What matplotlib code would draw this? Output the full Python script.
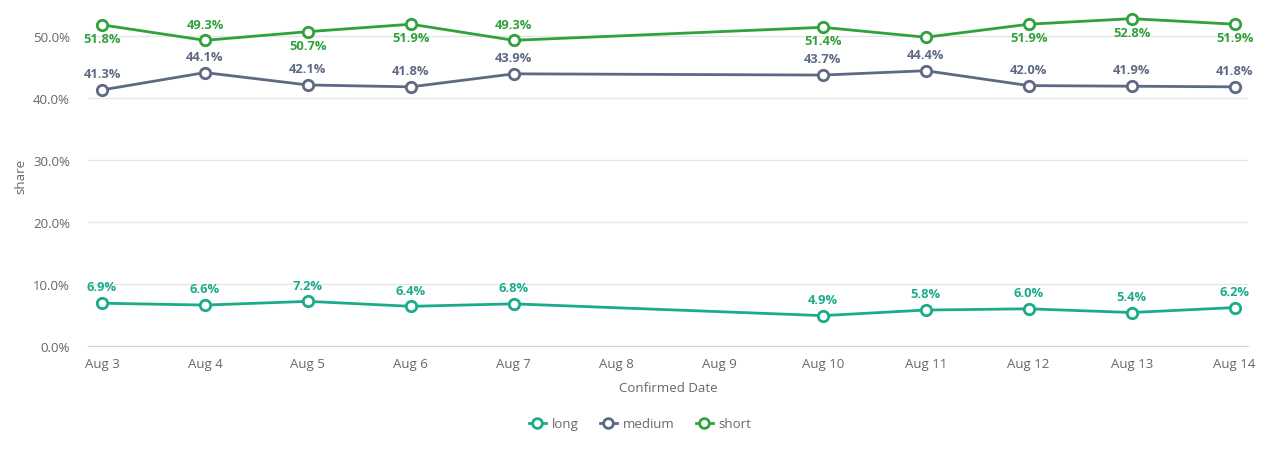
import matplotlib
matplotlib.use("Agg")
import matplotlib.pyplot as plt
import pandas as pd
from matplotlib.lines import Line2D

plt.rcParams['font.family'] = ['Open Sans', 'DejaVu Sans']

dates = ["2020-08-03", "2020-08-04", "2020-08-05", "2020-08-06", "2020-08-07",
         "2020-08-10", "2020-08-11", "2020-08-12", "2020-08-13", "2020-08-14"]
long_vals = [6.9, 6.6, 7.2, 6.4, 6.8, 4.9, 5.8, 6.0, 5.4, 6.2]
medium_vals = [41.3, 44.1, 42.1, 41.8, 43.9, 43.7, 44.4, 42.0, 41.9, 41.8]
short_vals = [51.8, 49.3, 50.7, 51.9, 49.3, 51.4, 49.8, 51.9, 52.8, 51.9]
# label position for short series: 1 above, -1 below, 0 hidden
short_label_pos = [-1, 1, -1, -1, 1, -1, 0, -1, -1, -1]
tick_dates = pd.date_range("2020-08-03", "2020-08-14", freq="D")
tick_labels = [f"Aug {d.day}" for d in tick_dates]
y_ticks = [0, 10, 20, 30, 40, 50]

x = pd.to_datetime(dates)

c_long = "#1aab8b"
c_medium = "#5e6a84"
c_short = "#30a13c"

fig = plt.figure(figsize=(12.8, 4.56), dpi=100)
ax = fig.add_axes([88/1280, 1-347/456, (1248-88)/1280, (347-6)/456])

def draw(vals, color, label):
    ax.plot(x, vals, color=color, lw=2, marker='o', ms=7.5, mfc='white',
            mec=color, mew=2, zorder=3, label=label, clip_on=False)

draw(long_vals, c_long, "long")
draw(medium_vals, c_medium, "medium")
draw(short_vals, c_short, "short")

lab_kw = dict(textcoords='offset points', ha='center', fontsize=9.3, fontweight='bold')
for xi, v in zip(x, long_vals):
    ax.annotate(f"{v:.1f}%", (xi, v), xytext=(0, 7), va='bottom', color=c_long, **lab_kw)
for xi, v in zip(x, medium_vals):
    ax.annotate(f"{v:.1f}%", (xi, v), xytext=(0, 7), va='bottom', color=c_medium, **lab_kw)
for xi, v, p in zip(x, short_vals, short_label_pos):
    if p == 0:
        continue
    if p > 0:
        ax.annotate(f"{v:.1f}%", (xi, v), xytext=(0, 7), va='bottom', color=c_short, **lab_kw)
    else:
        ax.annotate(f"{v:.1f}%", (xi, v), xytext=(0, -5), va='top', color=c_short, **lab_kw)

ax.set_ylim(0, 50 * (347 - 6) / (347 - 37))
xmin = tick_dates[0] - pd.Timedelta(days=0.136)
xmax = tick_dates[-1] + pd.Timedelta(days=0.13)
ax.set_xlim(xmin, xmax)

ax.set_yticks(y_ticks)
ax.set_yticklabels([f"{t:.1f}%" for t in y_ticks])
ax.set_xticks(tick_dates)
ax.set_xticklabels(tick_labels)

ax.grid(axis='y', color='#e6e6e6', lw=1)
ax.set_axisbelow(True)
for s in ['top', 'right', 'left']:
    ax.spines[s].set_visible(False)
ax.spines['bottom'].set_color('#ccd6eb')
ax.tick_params(axis='both', length=0, labelsize=9.5, colors='#666666')
ax.tick_params(axis='x', pad=8)
ax.tick_params(axis='y', pad=13)

ax.set_xlabel("Confirmed Date", fontsize=9.5, color='#666666', labelpad=8)
ax.set_ylabel("share", fontsize=9.5, color='#666666', labelpad=4)

handles = [Line2D([], [], color=c, lw=2, marker='o', ms=7, mfc='white', mec=c, mew=2)
           for c in (c_long, c_medium, c_short)]
fig.legend(handles, ["long", "medium", "short"], loc='center', bbox_to_anchor=(0.5, 1-425/456),
           ncol=3, frameon=False, fontsize=9.5, labelcolor='#666666', handlelength=1.3,
           columnspacing=1.6, handletextpad=0.45)

fig.savefig("out.png", dpi=100)
